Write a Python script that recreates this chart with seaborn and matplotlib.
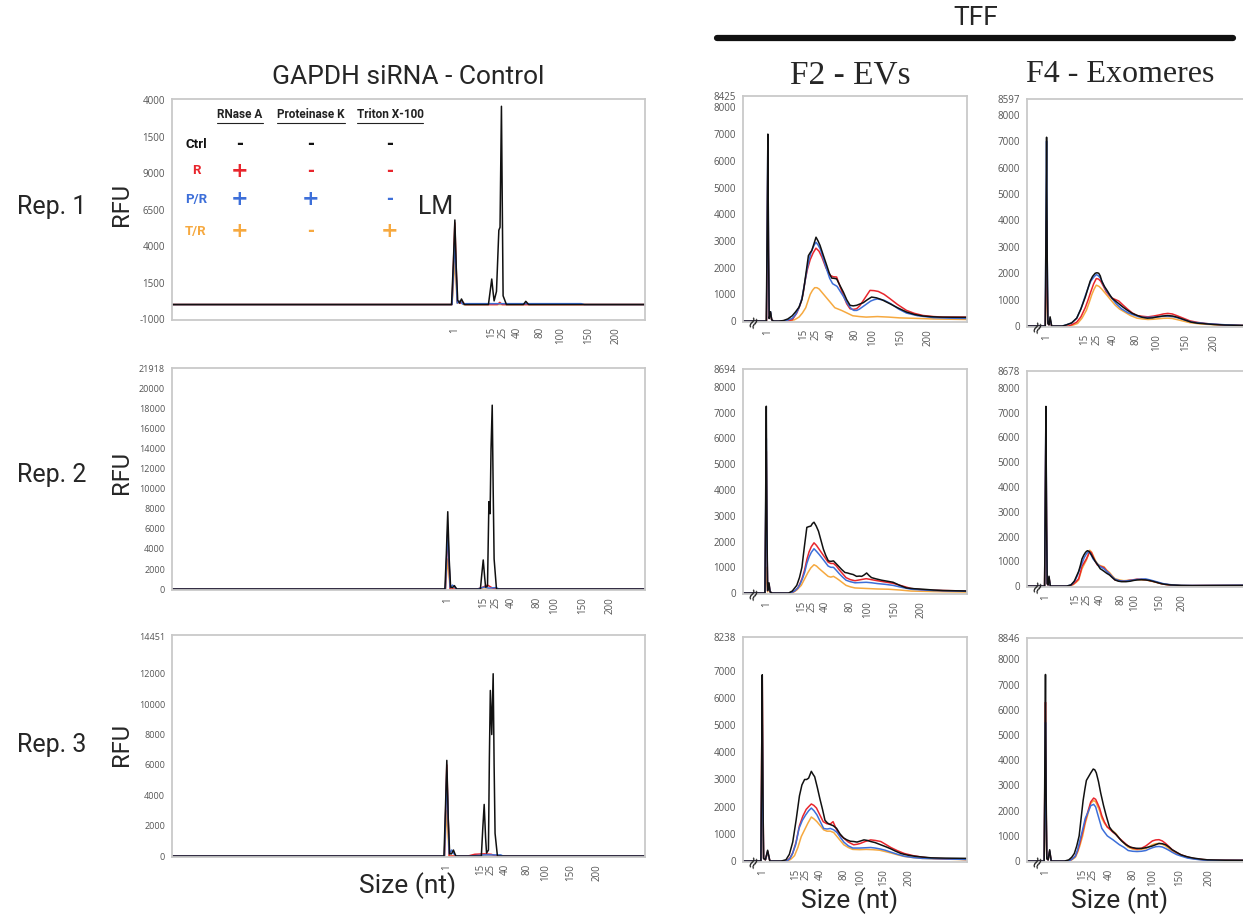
import matplotlib
matplotlib.use("Agg")
import matplotlib.pyplot as plt
from matplotlib.lines import Line2D
import pandas as pd
import seaborn as sns

W, H = 1243, 917

# draw order: last one ends up on top
CONDITIONS = ["T/R", "R", "P/R", "Ctrl"]
COLORS = {"Ctrl": "#111111", "R": "#e8262d", "P/R": "#3d6fd9", "T/R": "#f6a940"}

LADDER_NT = [1, 15, 25, 40, 80, 100, 150, 200]

# ---------------------------------------------------------------------------
# GAPDH siRNA - Control (x = migration time, arbitrary units 0-100)
# ---------------------------------------------------------------------------
CTRL_REP1_LADDER = [59.8, 67.6, 69.9, 73.0, 77.9, 82.2, 88.0, 93.8]
CTRL_REP1_YTICKS = [-1000, 1500, 4000, 6500, 9000, 11500, 14000]
CTRL_REP1_YLABELS = ["-1000", "1500", "4000", "6500", "9000", "1500", "4000"]
CTRL_REP1 = {
    "Ctrl": ([0, 59.1, 59.5, 59.8, 60.1, 60.4, 60.8, 61.2, 61.8, 66.9, 67.3, 67.6, 67.9, 68.1, 68.6, 69.1, 69.35, 69.65, 69.85, 70.0, 70.7, 74.3, 74.8, 75.4, 100],
             [0, 0, 3000, 5800, 2500, 300, 100, 380, 0, 0, 1000, 1750, 800, 250, 900, 5100, 5300, 13600, 6000, 600, 0, 0, 220, 0, 0]),
    "R": ([0, 59.2, 59.8, 60.3, 60.9, 61.4, 62.0, 68.8, 69.3, 69.8, 100],
          [0, 0, 5600, 200, 80, 180, 0, 0, 150, 0, 0]),
    "P/R": ([0, 59.2, 59.8, 60.3, 60.9, 61.4, 62.2, 86.5, 87.2, 100],
            [0, 0, 4500, 100, 250, 40, 60, 60, 0, 0]),
    "T/R": ([0, 59.2, 59.8, 60.3, 61.0, 61.6, 100],
            [0, 0, 3000, 100, 250, 0, 0]),
}

CTRL_REP2_LADDER = [58.3, 65.8, 68.5, 71.7, 77.1, 80.9, 86.8, 92.7]
CTRL_REP2_YTICKS = [0, 2000, 4000, 6000, 8000, 10000, 12000, 14000, 16000, 18000, 20000, 21918]
CTRL_REP2 = {
    "Ctrl": ([0, 57.7, 58.0, 58.3, 58.6, 58.9, 59.3, 59.7, 60.2, 65.2, 65.5, 65.8, 66.1, 66.3, 66.7, 67.0, 67.25, 67.45, 67.7, 67.9, 68.1, 68.6, 100],
             [0, 0, 3500, 7700, 3000, 200, 150, 350, 0, 0, 1500, 2900, 1200, 200, 300, 8700, 7500, 14000, 18300, 10000, 3000, 0, 0]),
    "R": ([0, 57.8, 58.3, 58.8, 64.5, 65.5, 66.7, 67.6, 68.3, 100],
          [0, 0, 5500, 0, 0, 150, 400, 150, 0, 0]),
    "P/R": ([0, 57.8, 58.3, 58.8, 59.3, 59.7, 60.3, 64.5, 66.0, 67.0, 68.5, 69.2, 100],
            [0, 0, 6000, 150, 400, 200, 0, 0, 200, 100, 150, 0, 0]),
    "T/R": ([0, 57.8, 58.3, 58.8, 100],
            [0, 0, 3000, 0, 0]),
}

CTRL_REP3_LADDER = [58.1, 65.2, 67.5, 70.5, 75.1, 78.9, 84.3, 89.9]
CTRL_REP3_YTICKS = [0, 2000, 4000, 6000, 8000, 10000, 12000, 14451]
CTRL_REP3 = {
    "Ctrl": ([0, 57.5, 57.8, 58.1, 58.4, 58.7, 59.1, 59.5, 60.0, 65.4, 65.7, 66.0, 66.3, 66.5, 66.9, 67.1, 67.3, 67.6, 67.9, 68.1, 68.3, 68.8, 100],
             [0, 0, 3000, 6300, 2500, 150, 150, 400, 0, 0, 1800, 3400, 1200, 200, 400, 6500, 10900, 8000, 12000, 6000, 1500, 0, 0]),
    "R": ([0, 57.6, 58.1, 58.6, 62.5, 64.0, 66.0, 67.5, 68.5, 100],
          [0, 0, 6000, 0, 0, 120, 150, 120, 0, 0]),
    "P/R": ([0, 57.6, 58.1, 58.6, 59.1, 59.6, 60.2, 63.0, 66.0, 69.5, 70.0, 100],
            [0, 0, 5500, 150, 400, 150, 0, 0, 80, 80, 0, 0]),
    "T/R": ([0, 57.6, 58.1, 58.6, 100],
            [0, 0, 3000, 0, 0]),
}

# ---------------------------------------------------------------------------
# TFF F2 - EVs
# ---------------------------------------------------------------------------
EV_REP1_LADDER = [11.0, 27.2, 32.6, 39.6, 49.9, 58.1, 70.6, 82.6]
EV_REP1_YTICKS = [0, 1000, 2000, 3000, 4000, 5000, 6000, 7000, 8000, 8425]
EV_REP1 = {
    "Ctrl": ([0, 10.4, 10.8, 11.1, 11.4, 11.7, 12.3, 12.8, 13.6, 16, 18, 20, 22, 23.5, 25, 26.3, 27.3, 28.3, 29.2, 30.0, 30.7, 31.7, 32.6, 33.5, 34.4, 35.9, 37.4, 38.5, 39.6, 40.7, 41.8, 43.3, 44.8, 46.3, 47.8, 49.2, 50.7, 52.2, 53.7, 55.5, 57.4, 59.6, 62, 65.6, 69, 73, 76.5, 80.4, 84, 87.8, 93, 100],
             [0, 0, 3500, 7000, 2500, 100, 350, 50, 0, 0, 20, 80, 200, 350, 520, 800, 1300, 1900, 2450, 2560, 2640, 2900, 3140, 3000, 2830, 2450, 2080, 1800, 1610, 1600, 1580, 1330, 1085, 800, 590, 570, 590, 640, 690, 800, 900, 870, 800, 650, 500, 340, 250, 190, 165, 150, 145, 140]),
    "R": ([0, 10.5, 10.8, 11.1, 11.4, 11.7, 12.3, 12.8, 13.6, 18, 20, 22, 24, 25.5, 26.8, 27.7, 28.8, 30, 31.3, 32.6, 33.9, 35.2, 37, 38.9, 40.3, 41.8, 43.3, 44.8, 46.3, 47.8, 49.2, 50.7, 52.2, 53.7, 55.2, 56.7, 58.5, 60.4, 63, 65.6, 69, 73, 76.5, 80.4, 85, 89.3, 100],
          [0, 0, 3000, 6000, 2000, 100, 300, 50, 0, 0, 20, 50, 300, 600, 1000, 1500, 1950, 2300, 2550, 2730, 2620, 2400, 2000, 1710, 1660, 1650, 1300, 960, 650, 460, 440, 460, 580, 770, 960, 1150, 1140, 1110, 1000, 840, 620, 400, 290, 210, 170, 150, 150]),
    "P/R": ([0, 10.5, 10.8, 11.1, 11.4, 11.7, 12.3, 12.8, 13.6, 18, 20, 22, 23.5, 25, 26.3, 27.5, 28.5, 29.5, 30.3, 31, 31.8, 32.6, 33.5, 34.5, 36, 37.5, 38.7, 40, 41, 42, 43.5, 45, 46.3, 47.5, 48.5, 49.5, 50.8, 52, 54.5, 57, 58.5, 60, 63, 66, 69.5, 73, 78, 85, 92, 100],
            [0, 0, 3500, 6900, 2500, 100, 350, 50, 0, 0, 40, 100, 250, 500, 850, 1400, 1900, 2300, 2550, 2700, 2850, 2950, 2850, 2700, 2300, 1900, 1600, 1400, 1350, 1300, 1100, 900, 700, 550, 450, 400, 400, 450, 600, 750, 800, 830, 780, 650, 450, 300, 200, 130, 110, 100]),
    "T/R": ([0, 10.5, 10.8, 11.1, 11.4, 11.7, 12.3, 12.8, 13.6, 20, 23, 25, 26.5, 28, 29, 30, 31, 32, 33, 34, 35, 36, 37, 38, 39.5, 41, 42.5, 44, 46.5, 49, 52, 55, 60, 65, 70, 78, 85, 100],
            [0, 0, 2000, 4000, 1500, 100, 300, 50, 0, 0, 50, 150, 300, 500, 750, 1000, 1150, 1250, 1250, 1200, 1100, 1000, 900, 800, 650, 500, 450, 400, 300, 200, 170, 150, 170, 150, 120, 100, 80, 60]),
}

EV_REP2_LADDER = [10.4, 26.3, 31.0, 36.6, 47.8, 55.6, 67.5, 79.7]
EV_REP2_YTICKS = [0, 1000, 2000, 3000, 4000, 5000, 6000, 7000, 8000, 8694]
EV_REP2 = {
    "Ctrl": ([0, 9.8, 10.1, 10.4, 10.7, 11.0, 11.6, 12.1, 13.0, 18, 20.3, 22, 24, 25.2, 26.3, 27.4, 28.5, 29.4, 30.3, 31, 31.7, 32.7, 33.7, 34.8, 35.9, 37, 38.1, 39.2, 40.4, 41.5, 42.6, 44, 45.5, 46.7, 47.8, 49.2, 50.7, 52, 53, 54, 55.2, 56.3, 57.4, 59.5, 61.9, 64.5, 67, 70, 73, 76.5, 80.4, 85, 89.3, 95, 100],
             [0, 0, 3500, 7250, 2500, 100, 400, 50, 0, 0, 0, 80, 300, 600, 1000, 1800, 2550, 2580, 2600, 2700, 2750, 2600, 2400, 2050, 1700, 1450, 1250, 1230, 1250, 1150, 1050, 920, 800, 780, 750, 720, 650, 660, 650, 700, 780, 680, 600, 550, 500, 460, 420, 300, 200, 170, 150, 120, 100, 90, 80]),
    "R": ([0, 9.8, 10.1, 10.4, 10.7, 11.0, 11.6, 12.1, 13.0, 21, 23, 24.5, 25.5, 26.5, 27.5, 28.5, 29.5, 30.5, 31.7, 32.8, 34, 36, 38, 39.2, 40.4, 41.7, 43, 44.5, 46, 48, 50, 52.5, 55, 57.5, 60, 63.5, 67, 71, 75, 80, 85, 100],
          [0, 0, 2500, 5500, 2000, 100, 350, 50, 0, 0, 80, 200, 380, 600, 900, 1300, 1600, 1800, 1950, 1850, 1700, 1450, 1200, 1150, 1150, 1050, 900, 750, 600, 520, 480, 520, 560, 520, 480, 430, 380, 280, 180, 130, 110, 80]),
    "P/R": ([0, 9.8, 10.1, 10.4, 10.7, 11.0, 11.6, 12.1, 13.0, 21, 23, 24.5, 25.5, 26.5, 27.5, 28.5, 29.5, 30.5, 31.7, 32.8, 34, 36, 38, 39.2, 40.4, 41.7, 43, 44.5, 46, 48, 50, 52.5, 55, 57.5, 60, 63.5, 67, 71, 75, 85, 100],
            [0, 0, 3000, 6000, 2000, 100, 350, 50, 0, 0, 80, 200, 350, 550, 800, 1150, 1400, 1580, 1720, 1620, 1500, 1280, 1050, 1000, 1000, 880, 750, 620, 500, 440, 400, 410, 420, 400, 370, 340, 300, 220, 150, 100, 70]),
    "T/R": ([0, 9.8, 10.1, 10.4, 10.7, 11.0, 11.6, 12.1, 13.0, 22, 24, 26, 27.5, 29, 30.3, 31.7, 32.8, 34, 36, 38, 39.2, 40.4, 41.7, 43, 44.5, 46, 48, 50, 55, 60, 65, 70, 75, 85, 100],
            [0, 0, 500, 1000, 400, 50, 200, 30, 0, 0, 120, 300, 550, 800, 980, 1100, 1050, 950, 800, 650, 620, 650, 580, 500, 400, 300, 240, 200, 180, 160, 150, 120, 80, 60, 40]),
}

EV_REP3_LADDER = [8.6, 23.7, 28.2, 34.7, 44.9, 52.4, 63.0, 74.3]
EV_REP3_YTICKS = [0, 1000, 2000, 3000, 4000, 5000, 6000, 7000, 8238]
EV_REP3 = {
    "Ctrl": ([0, 8.0, 8.3, 8.6, 8.9, 9.2, 10.0, 11.0, 12.0, 17, 19.2, 20.7, 22.2, 23.7, 25.2, 26.3, 27.5, 28.4, 29.3, 30.5, 31.2, 32, 33.2, 34.3, 35.5, 36.6, 37.7, 38.8, 40.3, 41.8, 43.3, 44.9, 46.4, 47.9, 49.4, 50.9, 52.5, 54, 55.5, 57, 59, 61.5, 64, 66, 68, 70.5, 73.5, 76.6, 80, 84, 90, 100],
             [0, 0, 3500, 6850, 2500, 100, 50, 400, 0, 0, 50, 250, 700, 1500, 2400, 2800, 3000, 3000, 3050, 3300, 3200, 3100, 2700, 2300, 1900, 1500, 1400, 1350, 1300, 1200, 1000, 850, 780, 730, 720, 700, 740, 780, 760, 720, 680, 600, 520, 450, 370, 280, 220, 180, 150, 120, 110, 100]),
    "R": ([0, 8.0, 8.3, 8.6, 8.9, 9.2, 10.0, 11.0, 12.0, 19.5, 21, 22.2, 23.7, 25.2, 26.7, 28.2, 29.3, 30.5, 31.6, 32.8, 34.3, 35.8, 37.3, 38.8, 40.2, 41.8, 43.3, 44.9, 47, 49.4, 51, 52.4, 54.5, 57, 59, 61.5, 64, 66, 69, 72, 76, 79.6, 85, 100],
          [0, 0, 3500, 6800, 2500, 100, 50, 350, 0, 0, 120, 300, 700, 1300, 1650, 1900, 2000, 2100, 2050, 1950, 1700, 1450, 1380, 1350, 1450, 1150, 950, 850, 700, 600, 620, 650, 720, 780, 760, 720, 600, 500, 380, 280, 200, 150, 100, 60]),
    "P/R": ([0, 8.0, 8.3, 8.6, 8.9, 9.2, 10.0, 11.0, 12.0, 19.5, 21, 22, 23.5, 25, 26.5, 28, 29.3, 30.5, 31.7, 33, 34.5, 36, 37.5, 39, 40.5, 42, 43.5, 45, 47, 49, 52, 54.5, 57, 59, 61, 63.5, 66, 69, 72, 76, 80, 100],
            [0, 0, 2500, 5000, 1800, 100, 50, 350, 0, 0, 100, 250, 600, 1200, 1500, 1700, 1850, 1950, 1850, 1700, 1450, 1200, 1180, 1200, 1150, 1050, 870, 700, 560, 480, 480, 490, 500, 480, 450, 400, 330, 250, 180, 130, 100, 60]),
    "T/R": ([0, 8.0, 8.3, 8.6, 8.9, 9.2, 10.0, 11.0, 12.0, 20, 21.5, 23, 24.5, 26, 27.5, 29, 30.5, 31.7, 33, 34.5, 36, 37.5, 39, 40.5, 42, 43.5, 45, 47, 49, 52, 55, 58, 61, 63.5, 66, 69, 72, 76, 80, 100],
            [0, 0, 1700, 3500, 1300, 100, 50, 300, 0, 0, 80, 200, 500, 900, 1150, 1400, 1620, 1550, 1450, 1300, 1150, 1100, 1100, 1050, 900, 750, 600, 500, 430, 420, 430, 420, 400, 350, 300, 230, 170, 130, 100, 50]),
}

# ---------------------------------------------------------------------------
# TFF F4 - Exomeres
# ---------------------------------------------------------------------------
EXO_REP1_LADDER = [8.9, 26.1, 31.8, 39.1, 49.4, 59.0, 72.0, 85.0]
EXO_REP1_YTICKS = [0, 1000, 2000, 3000, 4000, 5000, 6000, 7000, 8000, 8597]
EXO_REP1 = {
    "Ctrl": ([0, 8.3, 8.6, 8.9, 9.2, 9.5, 10.0, 10.5, 11.2, 16, 18, 20.3, 22.6, 24.5, 26.5, 27.6, 28.7, 29.8, 31, 31.8, 32.6, 33.3, 34, 35.2, 36.4, 37.5, 38.7, 40.2, 41.7, 43.6, 45.6, 47.9, 50.2, 52.5, 54.7, 57, 59.3, 61.6, 63.9, 66.2, 68.5, 71.5, 74.6, 77.6, 80.7, 85, 89.9, 95, 100],
             [0, 0, 3500, 7150, 2500, 100, 50, 350, 0, 0, 50, 120, 300, 650, 1100, 1400, 1700, 1880, 2000, 2020, 2000, 1900, 1700, 1500, 1350, 1200, 1050, 950, 850, 720, 600, 480, 400, 330, 300, 310, 350, 380, 400, 380, 330, 240, 150, 110, 90, 60, 40, 30, 20]),
    "R": ([0, 8.3, 8.6, 8.9, 9.2, 9.5, 10.0, 10.5, 11.2, 19, 21, 22.6, 24.5, 26.5, 27.8, 29, 30.3, 31.5, 32.5, 33.5, 34.8, 36, 37.5, 39, 40.3, 41.7, 43.6, 45.6, 47.8, 50, 52.5, 55, 57.5, 60, 62, 64, 66, 68, 71, 74, 77.5, 81, 85, 90, 100],
          [0, 0, 2000, 4000, 1500, 100, 50, 250, 0, 0, 80, 150, 350, 700, 1000, 1300, 1600, 1800, 1780, 1700, 1500, 1300, 1150, 1050, 1000, 950, 800, 650, 500, 400, 370, 350, 380, 420, 460, 480, 460, 400, 300, 200, 140, 100, 70, 40, 20]),
    "P/R": ([0, 8.3, 8.6, 8.9, 9.2, 9.5, 10.0, 10.5, 11.2, 16, 18, 20.3, 22.6, 24.5, 26.5, 27.8, 29, 30.3, 31.5, 32.5, 33.5, 34.8, 36, 38.2, 40.5, 43, 46, 48.5, 51, 53.5, 56, 59, 62, 64.5, 67, 71, 75, 82, 90, 100],
            [0, 0, 3500, 7000, 2500, 100, 50, 300, 0, 0, 50, 120, 300, 650, 1150, 1450, 1700, 1850, 1950, 1900, 1800, 1550, 1350, 1100, 850, 650, 500, 420, 350, 330, 330, 350, 370, 370, 350, 250, 150, 90, 50, 20]),
    "T/R": ([0, 8.3, 8.6, 8.9, 9.2, 9.5, 10.0, 10.5, 11.2, 19, 21, 23, 25, 27, 28.3, 29.5, 30.5, 31.5, 32.8, 34, 35.5, 37, 38.5, 40, 42, 44, 47, 50, 52.5, 55, 57.5, 60, 62, 64, 66, 68, 71, 74, 79, 85, 100],
            [0, 0, 1500, 3000, 1100, 100, 50, 250, 0, 0, 40, 100, 300, 600, 900, 1200, 1400, 1550, 1500, 1400, 1250, 1100, 950, 800, 650, 550, 400, 300, 270, 250, 260, 280, 295, 300, 290, 250, 190, 130, 80, 50, 20]),
}

EXO_REP2_LADDER = [8.6, 22.2, 27.5, 33.3, 42.8, 48.9, 60.1, 70.6]
EXO_REP2_YTICKS = [0, 1000, 2000, 3000, 4000, 5000, 6000, 7000, 8000, 8678]
EXO_REP2 = {
    "Ctrl": ([0, 8.0, 8.3, 8.6, 8.9, 9.2, 9.6, 10.0, 10.6, 18, 20, 21.5, 22.5, 23.5, 24.3, 25, 25.8, 26.5, 27, 27.5, 28.2, 29, 30, 31, 32.2, 33.3, 34.2, 35, 36.2, 37.5, 38.7, 40, 41.5, 43, 45, 47, 48.5, 50, 52, 54, 55.5, 57, 59, 61, 63, 65, 70, 75, 85, 100],
             [0, 0, 3500, 7250, 2500, 100, 50, 400, 0, 0, 50, 200, 400, 600, 850, 1100, 1250, 1350, 1400, 1430, 1400, 1300, 1150, 1000, 850, 700, 650, 600, 520, 450, 350, 250, 200, 180, 180, 200, 230, 250, 260, 250, 230, 200, 150, 100, 70, 50, 30, 20, 25, 30]),
    "R": ([0, 8.0, 8.3, 8.6, 8.9, 9.2, 9.6, 10.0, 10.6, 19, 21, 22.3, 23.5, 24.3, 25, 26, 27, 27.8, 28.5, 29.3, 30, 31, 32, 33.5, 35, 36.2, 37.5, 38.7, 40, 42, 44, 47, 50, 52, 54, 56, 58, 60, 62, 66, 70, 80, 100],
          [0, 0, 3200, 6500, 2300, 100, 50, 350, 0, 0, 80, 180, 300, 550, 800, 950, 1100, 1250, 1400, 1350, 1200, 1000, 850, 800, 750, 620, 500, 380, 250, 220, 200, 240, 280, 275, 260, 220, 180, 130, 80, 40, 20, 25, 30]),
    "P/R": ([0, 8.0, 8.3, 8.6, 8.9, 9.2, 9.6, 10.0, 10.6, 18, 20, 21, 22, 23, 24, 25, 26, 27, 28, 29, 30, 31.5, 33, 34, 35, 36.2, 37.5, 38.7, 40, 42, 44, 47, 50, 52, 54, 56, 58, 60, 62, 66, 70, 80, 100],
            [0, 0, 3500, 7000, 2500, 100, 50, 350, 0, 0, 50, 130, 250, 450, 700, 920, 1150, 1300, 1400, 1300, 1100, 950, 800, 750, 700, 600, 500, 380, 280, 220, 200, 230, 270, 285, 290, 250, 200, 150, 100, 50, 30, 30, 40]),
    "T/R": ([0, 8.0, 8.3, 8.6, 8.9, 9.2, 9.6, 10.0, 10.6, 19, 21, 22.3, 23.5, 24.3, 25, 26, 27, 27.8, 28.5, 29.3, 30, 31, 32, 33.5, 35, 36.2, 37.5, 38.7, 40, 42, 44, 47, 50, 52, 54, 56, 58, 60, 62, 66, 70, 80, 100],
            [0, 0, 2500, 5000, 1800, 100, 50, 300, 0, 0, 60, 150, 250, 500, 700, 880, 1050, 1250, 1450, 1380, 1250, 1050, 900, 820, 780, 650, 550, 420, 300, 250, 220, 240, 260, 255, 250, 210, 170, 120, 80, 40, 20, 25, 30]),
}

EXO_REP3_LADDER = [8.4, 25.2, 30.1, 37.5, 48.2, 57.0, 69.6, 82.6]
EXO_REP3_YTICKS = [0, 1000, 2000, 3000, 4000, 5000, 6000, 7000, 8000, 8846]
EXO_REP3_X = [0, 7.8, 8.1, 8.4, 8.7, 9.0, 9.6, 10.3, 11.0, 19, 20.5, 22, 23, 24, 25.3, 26.5, 27.8, 29, 30.3, 31.2, 32, 33, 34, 35.2, 36.5, 37.8, 39, 40.5, 42, 44, 46, 48, 50, 52, 54, 55.5, 57, 58.5, 60, 61.5, 63, 64.5, 66, 68, 70, 73, 76, 80, 85, 100]
EXO_REP3 = {
    "Ctrl": ([0, 7.8, 8.1, 8.4, 8.7, 9.0, 9.6, 10.3, 11.0, 17, 19, 20.3, 21.5, 22.6, 23.7, 24.6, 25.5, 26.3, 27, 28, 29, 30.1, 30.8, 31.5, 32.5, 33.5, 34.8, 36, 37.5, 38.7, 40, 41.5, 43, 45, 47, 49.5, 52, 54.5, 57, 58.5, 60, 61.5, 63, 64.5, 66, 68, 70, 72.5, 75, 78, 82, 90, 100],
             [0, 0, 3700, 7400, 2700, 100, 50, 450, 0, 0, 50, 150, 300, 600, 1000, 1700, 2400, 2850, 3200, 3350, 3500, 3650, 3620, 3500, 3150, 2700, 2200, 1800, 1350, 1200, 1100, 950, 800, 650, 550, 510, 500, 540, 600, 650, 700, 690, 650, 560, 450, 350, 250, 180, 130, 90, 50, 35, 30]),
    "R": (EXO_REP3_X,
          [0, 0, 3100, 6300, 2200, 100, 50, 400, 0, 0, 80, 200, 400, 700, 1150, 1600, 2000, 2350, 2500, 2450, 2300, 2100, 1800, 1550, 1350, 1250, 1150, 1050, 900, 750, 600, 520, 480, 510, 600, 700, 800, 840, 850, 800, 700, 580, 450, 340, 250, 160, 100, 60, 40, 30]),
    "P/R": (EXO_REP3_X,
            [0, 0, 2700, 5500, 2000, 100, 50, 400, 0, 0, 80, 200, 450, 800, 1250, 1700, 1950, 2200, 2250, 2150, 1900, 1600, 1300, 1150, 1000, 920, 850, 750, 650, 550, 420, 390, 380, 390, 420, 480, 530, 570, 580, 560, 500, 430, 350, 260, 200, 120, 80, 40, 30, 30]),
    "T/R": (EXO_REP3_X,
            [0, 0, 2000, 4000, 1500, 100, 50, 350, 0, 0, 60, 150, 350, 600, 1000, 1500, 1900, 2300, 2400, 2350, 2200, 2000, 1700, 1500, 1350, 1280, 1200, 1080, 900, 720, 550, 480, 450, 470, 500, 570, 650, 690, 700, 670, 600, 500, 400, 300, 230, 140, 90, 50, 30, 30]),
}

# legend table drawn inside Rep. 1 control panel
TABLE_HEADERS = ["RNase A", "Proteinase K", "Triton X-100"]
TABLE_ROWS = ["Ctrl", "R", "P/R", "T/R"]
TABLE_SIGNS = [["-", "-", "-"], ["+", "-", "-"], ["+", "+", "-"], ["+", "-", "+"]]


def px(x, y):
    return x / W, 1 - y / H


def box(x0, y0, x1, y1):
    return [x0 / W, 1 - y1 / H, (x1 - x0) / W, (y1 - y0) / H]


def draw_panel(ax, traces, ladder, yticks, ylabels=None, ymin=0, ymax=None,
               broken=False, ysize=7):
    frames = []
    for cond in CONDITIONS:
        xs, ys = traces[cond]
        frames.append(pd.DataFrame({"time": xs, "rfu": ys, "cond": cond}))
    df = pd.concat(frames, ignore_index=True)
    sns.lineplot(data=df, x="time", y="rfu", hue="cond", hue_order=CONDITIONS,
                 palette=COLORS, estimator=None, linewidth=1.1, legend=False, ax=ax)
    for ln in ax.lines:
        ln.set_solid_joinstyle("round")
    if ymax is None:
        ymax = yticks[-1]
    span = ymax - ymin
    ax.set_xlim(0, 100)
    ax.set_ylim(ymin - span * 0.004, ymax)
    ax.set_xticks(ladder)
    ax.set_xticklabels([str(v) for v in LADDER_NT], rotation=90)
    ax.set_yticks(yticks)
    ax.set_yticklabels(ylabels if ylabels else [str(v) for v in yticks])
    ax.tick_params(labelsize=7, colors="#555555", length=3, width=0.8, pad=2)
    ax.tick_params(axis="y", labelsize=ysize)
    ax.set_xlabel("")
    ax.set_ylabel("")
    for spine in ax.spines.values():
        spine.set_edgecolor("#c9c9c9")
        spine.set_linewidth(1.3)
    if broken:
        ax.text(0.045, 0.0, "\u2248", transform=ax.transAxes, rotation=65,
                ha="center", va="center", fontsize=12, color="#222222",
                family=["DejaVu Sans"])


sns.set_style("white")
plt.rcParams["font.family"] = ["Open Sans", "DejaVu Sans"]

fig = plt.figure(figsize=(W / 100, H / 100), dpi=100)
fig.patch.set_facecolor("white")

# left column: control
ax = fig.add_axes(box(172, 99, 645, 320))
draw_panel(ax, CTRL_REP1, CTRL_REP1_LADDER, CTRL_REP1_YTICKS, CTRL_REP1_YLABELS,
           ymin=-1000, ymax=14100)
ax = fig.add_axes(box(172, 368, 645, 590))
draw_panel(ax, CTRL_REP2, CTRL_REP2_LADDER, CTRL_REP2_YTICKS, ymax=22000, ysize=6.5)
ax = fig.add_axes(box(172, 635, 645, 857))
draw_panel(ax, CTRL_REP3, CTRL_REP3_LADDER, CTRL_REP3_YTICKS, ymax=14550, ysize=6.5)

# middle column: F2 - EVs
ax = fig.add_axes(box(743, 96, 967, 322))
draw_panel(ax, EV_REP1, EV_REP1_LADDER, EV_REP1_YTICKS, broken=True)
ax = fig.add_axes(box(743, 369, 967, 594))
draw_panel(ax, EV_REP2, EV_REP2_LADDER, EV_REP2_YTICKS, broken=True)
ax = fig.add_axes(box(743, 637, 967, 862))
draw_panel(ax, EV_REP3, EV_REP3_LADDER, EV_REP3_YTICKS, broken=True)

# right column: F4 - Exomeres (runs off the right edge)
ax = fig.add_axes(box(1027, 99, 1247, 327))
draw_panel(ax, EXO_REP1, EXO_REP1_LADDER, EXO_REP1_YTICKS, broken=True)
ax = fig.add_axes(box(1027, 371, 1247, 587))
draw_panel(ax, EXO_REP2, EXO_REP2_LADDER, EXO_REP2_YTICKS, broken=True)
ax = fig.add_axes(box(1027, 638, 1247, 862))
draw_panel(ax, EXO_REP3, EXO_REP3_LADDER, EXO_REP3_YTICKS, broken=True)

# headings
sans = ["Roboto", "DejaVu Sans"]
serif = ["Liberation Serif", "DejaVu Serif"]
fig.text(*px(408, 77), "GAPDH siRNA - Control", ha="center", va="center",
         fontsize=19, family=sans)
fig.text(*px(850, 75), "F2 - EVs", ha="center", va="center", fontsize=24, family=serif)
fig.text(*px(1120, 75), "F4 - Exomeres", ha="center", va="center", fontsize=23, family=serif)
fig.text(*px(976, 18), "TFF", ha="center", va="center", fontsize=19, family=sans)
fig.add_artist(Line2D([717 / W, 1233 / W], [1 - 38 / H] * 2, color="#111111", lw=4.5))

for label, y in zip(["Rep. 1", "Rep. 2", "Rep. 3"], [207, 475, 745]):
    fig.text(*px(52, y), label, ha="center", va="center", fontsize=18, family=sans)
for y in [205, 472, 745]:
    fig.text(*px(121, y), "RFU", ha="center", va="center", rotation=90,
             fontsize=17, family=sans)
for x, y in [(408, 886), (850, 901), (1120, 901)]:
    fig.text(*px(x, y), "Size (nt)", ha="center", va="center", fontsize=19, family=sans)

fig.text(*px(436, 207), "LM", ha="center", va="center", fontsize=18, family=sans)

# treatment table
header_x = [240, 311, 390]
headers = [fig.text(*px(x, 115), h, ha="center", va="center", fontsize=8.5,
                    fontweight="bold", family=sans, color="#222222")
           for x, h in zip(header_x, TABLE_HEADERS)]
for row, signs, y in zip(TABLE_ROWS, TABLE_SIGNS, [144, 171, 199, 231]):
    col = COLORS[row]
    fig.text(*px(196, y), row, ha="center", va="center", fontsize=9.5,
             fontweight="bold", family=sans, color=col)
    for x, s in zip(header_x, signs):
        fig.text(*px(x, y), s, ha="center", va="center",
                 fontsize=15 if s == "+" else 12, fontweight="bold",
                 family=["DejaVu Sans"], color=col)

fig.canvas.draw()
for t in headers:
    bb = t.get_window_extent()
    yy = (bb.y0 - 1) / H
    fig.add_artist(Line2D([bb.x0 / W, bb.x1 / W], [yy, yy], color="#222222", lw=0.8))

fig.savefig("out.png", dpi=100, facecolor="white")
